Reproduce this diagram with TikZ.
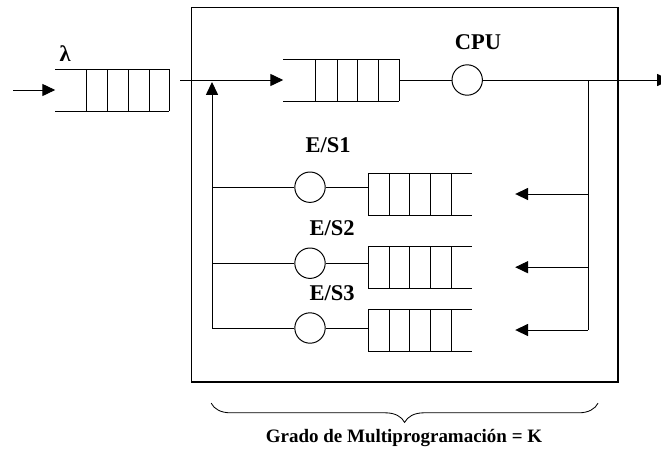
\documentclass[tikz,border=0pt]{standalone}
\usepackage{fontspec}
\setmainfont{Liberation Serif}
\usepackage{tikz}
\usetikzlibrary{calc}
\usetikzlibrary{arrows.meta}
\usetikzlibrary{decorations.pathreplacing}

\tikzset{
  server/.style={circle, draw, minimum size=0.76cm, inner sep=0pt},
  tag/.style={font=\fontsize{16}{18}\selectfont\bfseries, inner sep=0pt},
  flow/.style={-{Triangle[length=0.32cm,width=0.30cm]}},
}

\begin{document}
\begin{tikzpicture}[line width=0.7pt]
            \useasboundingbox (0.00, 0.00) rectangle (16.525,-11.60);
            % system box
            \draw[line width=0.9pt] (4.78,-0.18) rectangle (15.45,-9.55);

            % entry queue
            \coordinate (ein) at ( 0.33,-2.25);
            \coordinate (eq)  at ( 1.38,-2.25);
            \draw[flow] (ein) -- (eq);
            \draw (1.38,-1.73) -- (4.23,-1.73) (1.38,-2.78) -- (4.23,-2.78);
            \foreach \x in {2.15,2.68,3.20,3.73,4.23}
                \draw (\x,-1.73) -- (\x,-2.78);
            \node[tag] (lambda) at ( 1.63,-1.33) {λ};

            % CPU queue and server
            \coordinate (join)  at ( 4.50,-2.00);
            \coordinate (cq)    at ( 7.08,-2.00);
            \coordinate (cqout) at ( 9.98,-2.00);
            \coordinate (split) at (14.70,-2.00);
            \coordinate (out)   at (16.75,-2.00);
            \draw[flow] (join) -- (cq);
            \draw (7.08,-1.48) -- (9.98,-1.48) (7.08,-2.53) -- (9.98,-2.53);
            \foreach \x in {7.88,8.43,8.93,9.45,9.98}
                \draw (\x,-1.48) -- (\x,-2.53);
            \node[server] (cpu)    at (11.68,-2.00) {};
            \node[tag]    (cpulbl) at (11.95,-1.05) {CPU};
            \draw (cqout) -- (cpu);
            \draw[flow] (cpu) -- (out);

            % feedback
            \coordinate (fbtop) at ( 5.30,-2.05);
            \coordinate (fbbot) at ( 5.30,-8.20);
            \draw[flow] (fbbot) -- (fbtop);

            % E/S devices
            \foreach \n/\cy/\qy/\lx/\ly in {1/-4.68/-4.85/8.20/-3.63,
                                             2/-6.58/-6.68/8.30/-5.70,
                                             3/-8.20/-8.25/8.30/-7.33} {
                \node[server] (es\n)    at ( 7.75,\cy) {};
                \node[tag]    (es\n lbl) at (\lx,\ly) {E/S\n};
                \coordinate (q\n) at ( 9.20,\qy);
                \coordinate (t\n) at (12.88,\qy);
                \coordinate (r\n) at (14.70,\qy);
                \draw (fbbot |- es\n) -- (es\n);
                \draw (es\n) -- (es\n -| q\n);
                \draw (9.20,{\qy+0.525}) -- (11.80,{\qy+0.525})
                      (9.20,{\qy-0.525}) -- (11.80,{\qy-0.525});
                \foreach \x in {9.20,9.73,10.23,10.75,11.28}
                    \draw (\x,{\qy+0.525}) -- (\x,{\qy-0.525});
                \draw[flow] (r\n) -- (t\n);
            }
            \draw (split) -- (r3);

            % brace and caption
            \coordinate (bra) at (14.95,-10.08);
            \coordinate (brb) at ( 5.28,-10.08);
            \draw[decorate, decoration={brace, amplitude=0.48cm}, line width=0.6pt] (bra) -- (brb);
            \node[font=\fontsize{13.5}{16}\selectfont\bfseries] (grado) at (10.10,-10.95)
                 {Grado de Multiprogramación = K};
        \end{tikzpicture}
\end{document}
